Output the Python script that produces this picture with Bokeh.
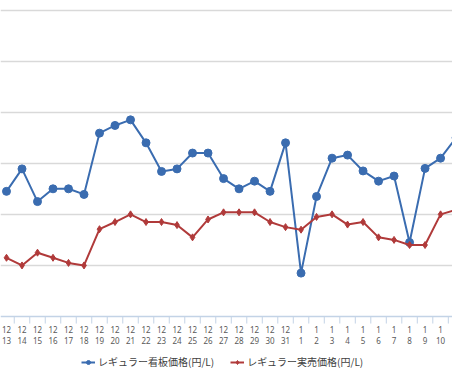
from bokeh.plotting import figure
from bokeh.models import Range1d, FixedTicker, Legend, LegendItem, Span
from bokeh.core.properties import value
from bokeh.embed import file_html
from bokeh.resources import INLINE

months = ["12"] * 19 + ["1"] * 11
days = [str(d) for d in range(13, 32)] + [str(d) for d in range(1, 12)]

signboard = [146.45, 146.89, 146.25, 146.50, 146.50, 146.39, 147.59, 147.74, 147.85, 147.40,
             146.84, 146.89, 147.20, 147.20, 146.70, 146.50, 146.65, 146.45, 147.40,
             144.85, 146.35, 147.10, 147.16, 146.85, 146.65, 146.75, 145.45, 146.90, 147.10, 147.50]
actual = [145.15, 145.00, 145.25, 145.15, 145.05, 145.00, 145.71, 145.85, 146.00, 145.85,
          145.85, 145.79, 145.55, 145.90, 146.04, 146.04, 146.04, 145.85, 145.75,
          145.70, 145.95, 146.00, 145.80, 145.85, 145.55, 145.50, 145.40, 145.40, 146.00, 146.09]
grid_values = [145, 146, 147, 148, 149, 150]
axis_base = 144

name_sign = "レギュラー看板価格(円/L)"
name_act = "レギュラー実売価格(円/L)"

idx = list(range(len(days)))
shown = idx[:29]
BLUE = "#3a6cb0"
RED = "#b03a3a"
AXIS = "#c3d3e6"

H = 380
Y0, Y1 = 142.748, 150.186
PX = H / (Y1 - Y0)   # pixels per unit

p = figure(frame_width=452, frame_height=H, output_backend="svg", toolbar_location=None,
           x_range=Range1d(-0.387, 28.77), y_range=Range1d(Y0, Y1),
           min_border=0)
p.outline_line_color = None
p.background_fill_color = "white"
p.border_fill_color = "white"
p.xaxis.visible = False
p.yaxis.visible = False
p.xgrid.visible = False
p.ygrid.ticker = FixedTicker(ticks=grid_values)
p.ygrid.grid_line_color = "#d9d9d9"
p.ygrid.grid_line_width = 1.5

# category axis (line, boundary ticks, two-line labels)
p.add_layout(Span(location=axis_base, dimension="width", line_color=AXIS, line_width=1.5))
bounds = [i + 0.5 for i in range(-1, 29)]
p.segment(x0=bounds, y0=[axis_base] * len(bounds), x1=bounds,
          y1=[axis_base - 7 / PX] * len(bounds), line_color=AXIS, line_width=1)
p.text(x=shown, y=[axis_base - 13 / PX] * len(shown), text=months[:29],
       text_font=value("Noto Sans"), text_font_size="8px", text_color="#595959",
       text_align="center", text_baseline="middle")
p.text(x=shown, y=[axis_base - 24 / PX] * len(shown), text=days[:29],
       text_font=value("Noto Sans"), text_font_size="8px", text_color="#595959",
       text_align="center", text_baseline="middle")

l1 = p.line(idx, signboard, line_color=BLUE, line_width=2)
s1 = p.scatter(idx, signboard, marker="circle", size=8, fill_color=BLUE, line_color=BLUE)
l2 = p.line(idx, actual, line_color=RED, line_width=2)
s2 = p.scatter(idx, actual, marker="diamond", size=7, fill_color=RED, line_color=RED)

legend = Legend(items=[LegendItem(label=name_sign, renderers=[l1, s1]),
                       LegendItem(label=name_act, renderers=[l2, s2])],
                orientation="horizontal", location=(81, 11),
                label_text_font="Noto Sans CJK JP", label_text_font_size="10px",
                label_text_color="#404040", glyph_width=14, glyph_height=10,
                spacing=16, padding=2, margin=0, border_line_color=None,
                background_fill_alpha=0, label_standoff=3)
p.add_layout(legend)

open("out.html", "w").write(file_html(p, INLINE))
